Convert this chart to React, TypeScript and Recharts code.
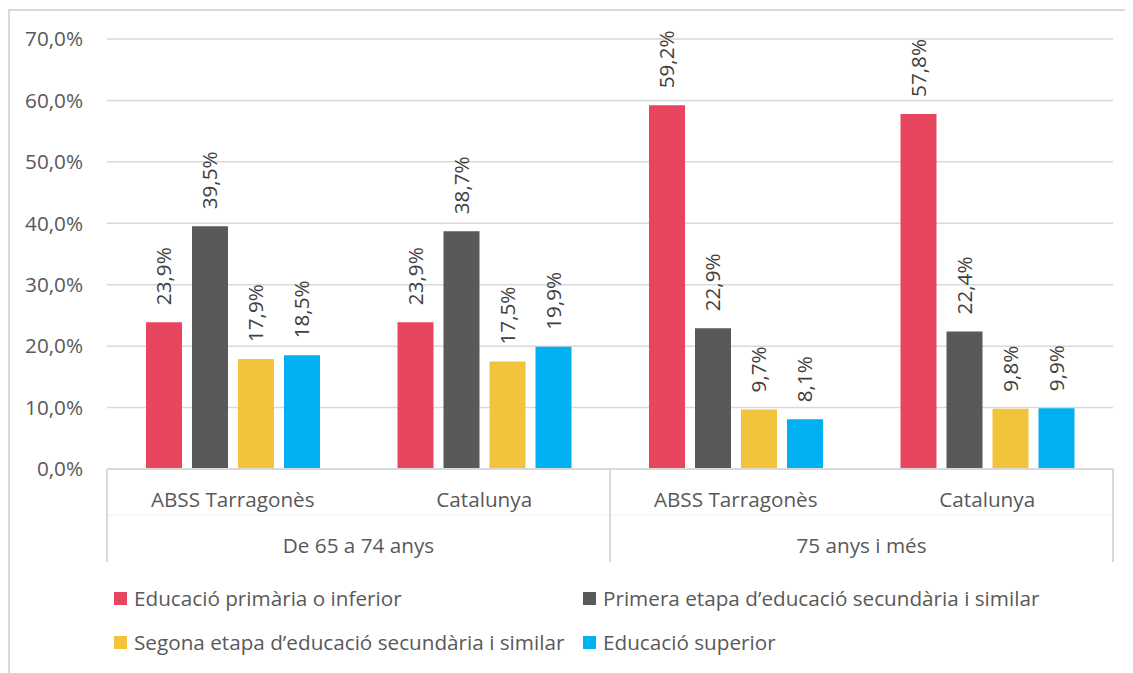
import { BarChart, Bar, XAxis, YAxis, CartesianGrid, Legend, LabelList } from "recharts";

// ── Data ──────────────────────────────────────────────────────────────────────

const places = ["ABSS Tarragonès", "Catalunya", "ABSS Tarragonès", "Catalunya"];
const ageGroups = ["De 65 a 74 anys", "De 65 a 74 anys", "75 anys i més", "75 anys i més"];

const primaria = [23.9, 23.9, 59.2, 57.8];
const primeraEtapa = [39.5, 38.7, 22.9, 22.4];
const segonaEtapa = [17.9, 17.5, 9.7, 9.8];
const superior = [18.5, 19.9, 8.1, 9.9];

const yTicks = [0, 10, 20, 30, 40, 50, 60, 70];

const series = [
  { key: "primaria", name: "Educació primària o inferior", color: "#E7465E" },
  { key: "primeraEtapa", name: "Primera etapa d’educació secundària i similar", color: "#595959" },
  { key: "segonaEtapa", name: "Segona etapa d’educació secundària i similar", color: "#F1C43C" },
  { key: "superior", name: "Educació superior", color: "#00B0F0" },
];

const data = places.map((p, i) => ({
  place: p,
  group: ageGroups[i],
  primaria: primaria[i],
  primeraEtapa: primeraEtapa[i],
  segonaEtapa: segonaEtapa[i],
  superior: superior[i],
}));

// ── Helpers ───────────────────────────────────────────────────────────────────

const FONT = "'Open Sans', sans-serif";
const FS = 20.7;
const TEXT = "#595959";
const LINE = "#d9d9d9";

const pct = (v: number) => `${v.toFixed(1).replace(".", ",")}%`;

function PlaceTick({ x, y, payload }: any) {
  return (
    <text x={x} y={y + 38} textAnchor="middle" fill={TEXT} fontSize={FS} fontFamily={FONT}>
      {payload.value}
    </text>
  );
}

// second level of the category axis: one label per age group + separators
function GroupTick({ x, y, payload, index }: any) {
  const half = payload.offset ?? 125.75;
  const lines = [];
  if (index % 2 === 0) lines.push(x - half);
  if (index === places.length - 1) lines.push(x + half);
  return (
    <g>
      {lines.map((lx) => (
        <line key={lx} x1={lx} x2={lx} y1={y - 46} y2={y + 47} stroke={LINE} strokeWidth={2} />
      ))}
      {index % 2 === 0 && (
        <text x={x + half} y={y + 38} textAnchor="middle" fill={TEXT} fontSize={FS} fontFamily={FONT}>
          {ageGroups[index]}
        </text>
      )}
    </g>
  );
}

function RotLabel({ x, y, width, value }: any) {
  return (
    <text
      transform={`translate(${x + width / 2}, ${y - 17}) rotate(-90)`}
      dy="0.36em"
      textAnchor="start"
      fill="#404040"
      fontSize={FS}
      fontFamily={FONT}
    >
      {pct(value)}
    </text>
  );
}

function LegendBox({ payload }: any) {
  const order = series.map((s) => s.name);
  const items = [...(payload ?? [])].sort((a: any, b: any) => order.indexOf(a.value) - order.indexOf(b.value));
  return (
    <div
      style={{
        display: "grid",
        gridTemplateColumns: "469px auto",
        gridAutoRows: "44px",
        fontFamily: FONT,
        fontSize: FS,
        color: TEXT,
      }}
    >
      {items.map((p: any) => (
        <div key={p.value} style={{ display: "flex", alignItems: "center", whiteSpace: "nowrap" }}>
          <span style={{ width: 13, height: 13, background: p.color, marginRight: 7, display: "inline-block" }} />
          {p.value}
        </div>
      ))}
    </div>
  );
}

export default function App() {
  return (
    <div
      style={{
        marginTop: 1,
        borderTop: `2px solid ${LINE}`,
        borderLeft: `2px solid ${LINE}`,
        width: 1123,
        height: 662,
      }}
    >
      <BarChart
        width={1123}
        height={662}
        data={data}
        margin={{ top: 28, right: 20, left: 0, bottom: 111 }}
        barSize={36}
        barGap={10}
      >
        <CartesianGrid vertical={false} stroke={LINE} strokeWidth={1.5} />
        <XAxis
          dataKey="place"
          height={46}
          tickLine={false}
          tickSize={0}
          tickMargin={0}
          axisLine={{ stroke: LINE, strokeWidth: 2 }}
          interval={0}
          allowDuplicatedCategory
          tick={<PlaceTick />}
        />
        <XAxis
          dataKey="place"
          xAxisId="grp"
          height={47}
          tickLine={false}
          tickSize={0}
          tickMargin={0}
          axisLine={{ stroke: "#f0f0f0", strokeWidth: 1 }}
          interval={0}
          allowDuplicatedCategory
          tick={<GroupTick />}
        />
        <YAxis
          width={97}
          domain={[0, 70]}
          ticks={yTicks}
          tickFormatter={pct}
          tickLine={false}
          tickSize={0}
          tickMargin={24}
          axisLine={false}
          tick={{ fill: TEXT, fontSize: FS, fontFamily: FONT }}
        />
        <Legend
          layout="horizontal"
          verticalAlign="middle"
          align="center"
          wrapperStyle={{ top: 565, left: 104, width: 1000 }}
          content={<LegendBox />}
        />
        {series.map((s) => (
          <Bar key={s.key} dataKey={s.key} name={s.name} fill={s.color} isAnimationActive={false}>
            <LabelList dataKey={s.key} content={<RotLabel />} />
          </Bar>
        ))}
      </BarChart>
    </div>
  );
}
